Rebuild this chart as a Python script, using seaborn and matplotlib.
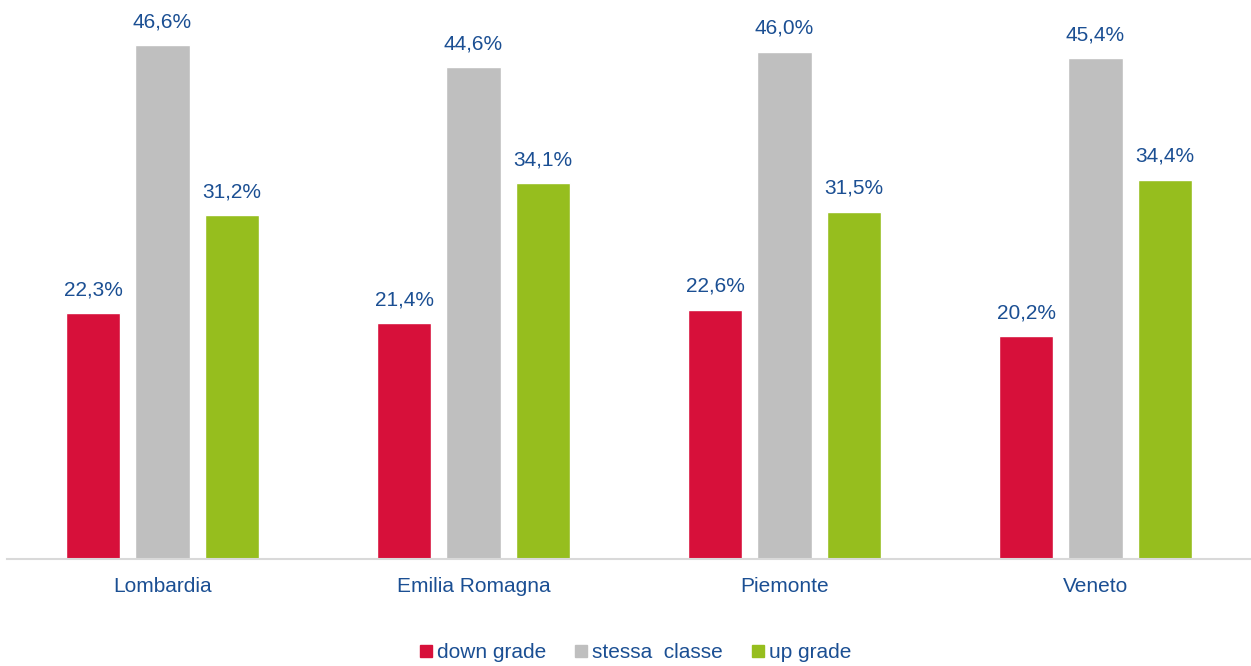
import matplotlib
matplotlib.use("Agg")
import matplotlib.pyplot as plt
import seaborn as sns
import pandas as pd

regions = ["Lombardia", "Emilia Romagna", "Piemonte", "Veneto"]
series = ["down grade", "stessa  classe", "up grade"]
down_grade = [22.3, 21.4, 22.6, 20.2]
stessa_classe = [46.6, 44.6, 46.0, 45.4]
up_grade = [31.2, 34.1, 31.5, 34.4]
colors = ["#D7103A", "#BFBFBF", "#96BE1E"]
text_color = "#1B4F93"

rows = []
for s, vals in zip(series, [down_grade, stessa_classe, up_grade]):
    for r, v in zip(regions, vals):
        rows.append({"region": r, "series": s, "value": v})
df = pd.DataFrame(rows)

sns.set_style("white")
plt.rcParams["font.family"] = ["Liberation Sans", "DejaVu Sans"]

fig = plt.figure(figsize=(12.51, 6.66), dpi=100)
ax = fig.add_axes([7 / 1251, (666 - 559) / 666, 1 - 7 / 1251, 559 / 666])
sns.barplot(data=df, x="region", y="value", hue="series", order=regions,
            hue_order=series, palette=colors, width=0.666, gap=0.217,
            ax=ax, legend=False, saturation=1)

for cont in ax.containers:
    labels = [f"{v:.1f}%".replace(".", ",") for v in cont.datavalues]
    ax.bar_label(cont, labels=labels, padding=10, color=text_color, fontsize=15)

ax.set_ylim(0, 50.7)
ax.set_xlim(-0.5, 3.5)
ax.set_xlabel("")
ax.set_ylabel("")
ax.set_yticks([])
ax.tick_params(axis="x", length=0, pad=13, labelsize=15, labelcolor=text_color)
for sp in ["top", "right", "left"]:
    ax.spines[sp].set_visible(False)
ax.spines["bottom"].set_color("#D9D9D9")
ax.spines["bottom"].set_linewidth(1.5)

handles = [plt.Line2D([], [], marker="s", linestyle="", markersize=8,
                      markerfacecolor=c, markeredgecolor=c) for c in colors]
leg = fig.legend(handles, series, loc="center", bbox_to_anchor=(635 / 1251, 1 - 653 / 666),
                 ncol=3, frameon=False, fontsize=15, handletextpad=0.2,
                 columnspacing=1.3, handlelength=0.7)
for t in leg.get_texts():
    t.set_color(text_color)

fig.savefig("out.png", dpi=100)
